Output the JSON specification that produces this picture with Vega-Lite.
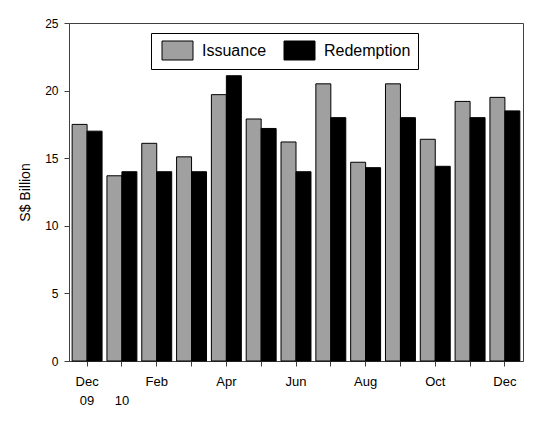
{
  "$schema": "https://vega.github.io/schema/vega-lite/v6.json",
  "autosize": "none",
  "padding": {"left": 69, "top": 23, "right": 20, "bottom": 65},
  "width": 454,
  "height": 338,
  "background": "white",
  "data": {
    "values": [
      {"month": "Dec09", "type": "Issuance", "value": 17.5},
      {"month": "Dec09", "type": "Redemption", "value": 17.0},
      {"month": "Jan10", "type": "Issuance", "value": 13.7},
      {"month": "Jan10", "type": "Redemption", "value": 14.0},
      {"month": "Feb10", "type": "Issuance", "value": 16.1},
      {"month": "Feb10", "type": "Redemption", "value": 14.0},
      {"month": "Mar10", "type": "Issuance", "value": 15.1},
      {"month": "Mar10", "type": "Redemption", "value": 14.0},
      {"month": "Apr10", "type": "Issuance", "value": 19.7},
      {"month": "Apr10", "type": "Redemption", "value": 21.1},
      {"month": "May10", "type": "Issuance", "value": 17.9},
      {"month": "May10", "type": "Redemption", "value": 17.2},
      {"month": "Jun10", "type": "Issuance", "value": 16.2},
      {"month": "Jun10", "type": "Redemption", "value": 14.0},
      {"month": "Jul10", "type": "Issuance", "value": 20.5},
      {"month": "Jul10", "type": "Redemption", "value": 18.0},
      {"month": "Aug10", "type": "Issuance", "value": 14.7},
      {"month": "Aug10", "type": "Redemption", "value": 14.3},
      {"month": "Sep10", "type": "Issuance", "value": 20.5},
      {"month": "Sep10", "type": "Redemption", "value": 18.0},
      {"month": "Oct10", "type": "Issuance", "value": 16.4},
      {"month": "Oct10", "type": "Redemption", "value": 14.4},
      {"month": "Nov10", "type": "Issuance", "value": 19.2},
      {"month": "Nov10", "type": "Redemption", "value": 18.0},
      {"month": "Dec10", "type": "Issuance", "value": 19.5},
      {"month": "Dec10", "type": "Redemption", "value": 18.5}
    ]
  },
  "mark": {"type": "bar", "stroke": "black", "strokeWidth": 1},
  "encoding": {
    "x": {
      "field": "month",
      "type": "nominal",
      "sort": null,
      "scale": {"paddingInner": 0.14, "paddingOuter": 0.09},
      "axis": {
        "title": null,
        "labelAngle": 0,
        "labelExpr": "datum.value == 'Dec09' ? ['Dec', '09\u00a0'] : datum.value == 'Jan10' ? ['', '\u00a010'] : indexof(['Feb10', 'Apr10', 'Jun10', 'Aug10', 'Oct10', 'Dec10'], datum.value) >= 0 ? slice(datum.value, 0, 3) : ''",
        "labelFontSize": 13,
        "labelLineHeight": 19,
        "labelPadding": 9,
        "labelBaseline": "top",
        "tickSize": 5
      }
    },
    "xOffset": {"field": "type", "type": "nominal", "scale": {"paddingInner": 0, "paddingOuter": 0}},
    "y": {
      "field": "value",
      "type": "quantitative",
      "scale": {"domain": [0, 25]},
      "axis": {
        "title": "S$ Billion",
        "values": [0, 5, 10, 15, 20, 25],
        "grid": false,
        "labelFontSize": 12,
        "labelPadding": 6,
        "tickSize": 5,
        "titleFontSize": 14,
        "titleFontWeight": "normal",
        "titlePadding": 12
      }
    },
    "color": {
      "field": "type",
      "type": "nominal",
      "scale": {"domain": ["Issuance", "Redemption"], "range": ["#a0a0a0", "#000000"]},
      "legend": {
        "title": null,
        "orient": "none",
        "legendX": 82,
        "legendY": 10,
        "direction": "horizontal",
        "fillColor": "white",
        "strokeColor": "black",
        "padding": 7,
        "symbolType": "M-1.55,-0.95L1.55,-0.95L1.55,0.95L-1.55,0.95Z",
        "symbolSize": 400,
        "symbolOffset": 9,
        "symbolStrokeColor": "black",
        "symbolStrokeWidth": 1,
        "symbolOpacity": 1,
        "labelFontSize": 16,
        "labelOffset": 14,
        "labelExpr": "datum.label == 'Redemption' ? 'Redemption\u00a0\u00a0' : datum.label",
        "columnPadding": 13
      }
    }
  },
  "config": {
    "font": "Liberation Sans",
    "view": {"stroke": "#404040", "strokeWidth": 1},
    "axis": {
      "domainColor": "#404040",
      "tickColor": "#404040",
      "labelColor": "black",
      "titleColor": "black",
      "labelFont": "Liberation Sans",
      "titleFont": "Liberation Sans"
    },
    "legend": {"labelFont": "Liberation Sans", "labelColor": "black"}
  }
}
